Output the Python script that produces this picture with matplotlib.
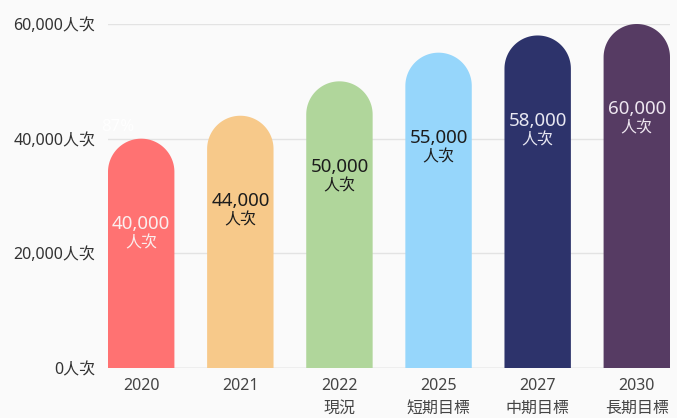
import numpy as np
import matplotlib.pyplot as plt
from matplotlib.patches import PathPatch
from matplotlib.path import Path

plt.rcParams['font.family'] = ['Noto Sans', 'Noto Sans CJK TC', 'DejaVu Sans']

# data
years = ['2020', '2021', '2022', '2025', '2027', '2030']
stages = ['', '', '現況', '短期目標', '中期目標', '長期目標']
visitors = [40000, 44000, 50000, 55000, 58000, 60000]
colors = ['#ff7272', '#f7c98a', '#b0d69b', '#96d6fb', '#2d336b', '#563b63']
text_colors = ['#fbeeee', '#1c1c1c', '#1c1c1c', '#1c1c1c', '#e8e8f2', '#eee6f0']
yticks = [0, 20000, 40000, 60000]

W, H = 677, 418
fig = plt.figure(figsize=(W / 100, H / 100), dpi=100)
fig.patch.set_facecolor('#fafafa')
ax = fig.add_axes([108 / W, 1 - 368 / H, (670 - 108) / W, (368 - 24) / H])
ax.set_facecolor('#fafafa')

bw = 0.67
ax.set_xlim(-bw / 2, len(years) - 1 + bw / 2)
ax.set_ylim(0, 60000)

# pixel -> data conversion for round caps
x_per_px = (len(years) - 1 + bw) / (670 - 108)
y_per_px = 60000 / (368 - 24)
r_y = bw / 2 / x_per_px * y_per_px

for y in yticks:
    ax.axhline(y, color='#bdbdbd' if y == 0 else '#e3e3e3', lw=1, zorder=0)

t = np.linspace(0, np.pi, 60)
for i, v in enumerate(visitors):
    cx = i + bw / 2 * np.cos(t)
    cy = v - r_y + r_y * np.sin(t)
    xs = np.concatenate([[i + bw / 2], cx, [i - bw / 2, i + bw / 2]])
    ys = np.concatenate([[0], cy, [0, 0]])
    codes = [Path.MOVETO] + [Path.LINETO] * (len(xs) - 2) + [Path.CLOSEPOLY]
    ax.add_patch(PathPatch(Path(np.column_stack([xs, ys]), codes),
                           facecolor=colors[i], lw=0, zorder=2))
    ax.text(i, v - 14900, f'{v:,}', ha='center', va='center', fontsize=13.5,
            color=text_colors[i], zorder=3)
    ax.text(i, v - 18300, '人次', ha='center', va='center', fontsize=11.5,
            color=text_colors[i], zorder=3)

ax.text(-0.24, 42100, '87%', ha='center', va='center', fontsize=12, color='white', zorder=3)

ax.set_yticks(yticks)
ax.set_yticklabels([f'{y:,}人次' for y in yticks], fontsize=11.5, color='#333333')
ax.set_xticks(range(len(years)))
ax.set_xticklabels([f'{y}\n{s}' if s else y for y, s in zip(years, stages)],
                   fontsize=11.5, color='#444444', va='top', linespacing=1.6)
ax.tick_params(length=0, pad=9)
ax.tick_params(axis='x', pad=7)
for s in ax.spines.values():
    s.set_visible(False)

fig.savefig('out.png', dpi=100, facecolor=fig.get_facecolor())
